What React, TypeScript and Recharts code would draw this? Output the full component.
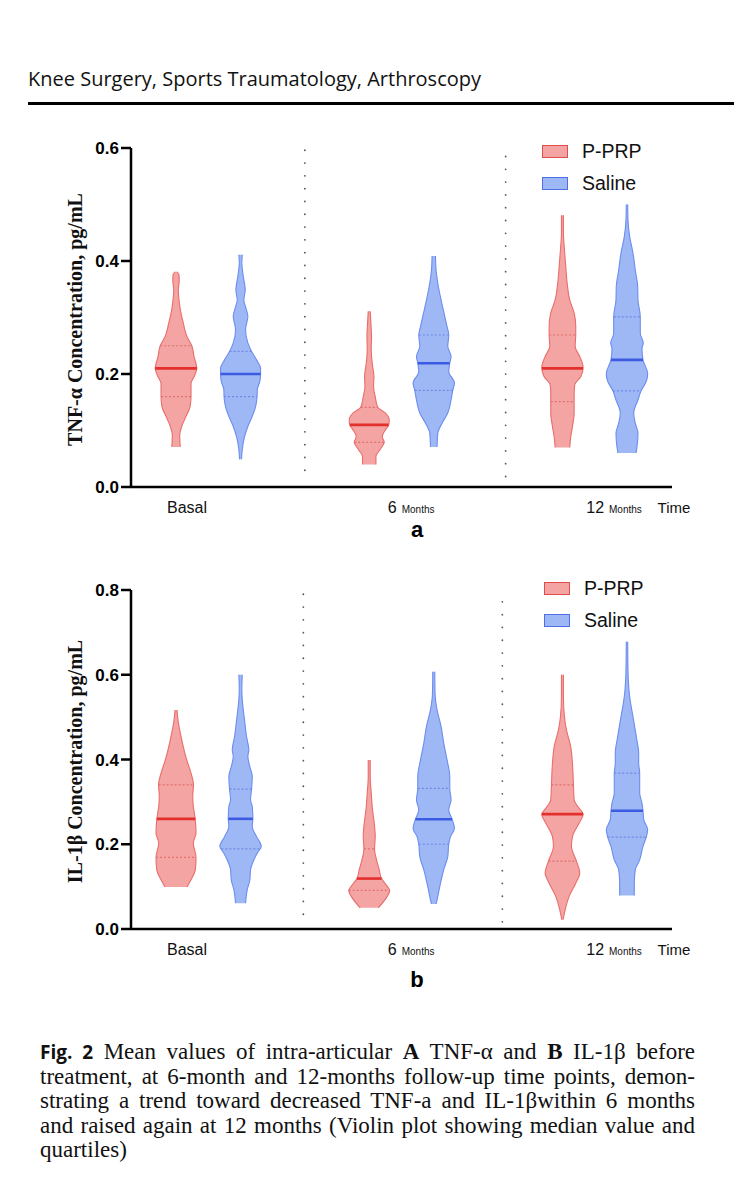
import React from "react";
import { ComposedChart, Area, XAxis, YAxis, ReferenceLine, Legend } from "recharts";

// x axis: time points
const timeLabels = ["Basal", "6", "12"];
const timeUnits = ["", "Months", "Months"];
const groupNames = ["P-PRP", "Saline"];

// violin outlines: [concentration, half width at reference scale], bottom to top
// Panel a — TNF-α
const tnfPrpBasal = [[0.071, 4.2], [0.092, 3.7], [0.107, 5.7], [0.125, 10], [0.142, 14], [0.16, 15], [0.183, 15], [0.195, 18], [0.21, 20.8], [0.231, 18], [0.25, 15.8], [0.266, 11], [0.29, 7.3], [0.314, 4.3], [0.331, 3], [0.349, 2.3], [0.365, 3.2], [0.375, 3], [0.381, 1]];
const tnfPrp6 = [[0.04, 6.7], [0.054, 6.7], [0.066, 10.7], [0.079, 15], [0.089, 13], [0.098, 15], [0.111, 19.7], [0.119, 20], [0.131, 16], [0.141, 8.5], [0.16, 6], [0.178, 4.3], [0.195, 4.7], [0.219, 3], [0.243, 2], [0.266, 2.3], [0.29, 1.7], [0.311, 1]];
const tnfPrp12 = [[0.07, 7.3], [0.089, 8.3], [0.107, 10], [0.131, 11.7], [0.151, 11.7], [0.166, 11.7], [0.181, 12.3], [0.195, 18.3], [0.211, 20.7], [0.219, 20], [0.231, 17.3], [0.249, 12.7], [0.269, 13.3], [0.284, 13.3], [0.308, 11.7], [0.331, 7.3], [0.361, 4.7], [0.39, 3.3], [0.42, 2], [0.449, 1], [0.481, 1]];
const tnfSalBasal = [[0.049, 1], [0.066, 1.7], [0.089, 4], [0.107, 7.3], [0.125, 11.7], [0.142, 15], [0.16, 16.5], [0.172, 16.7], [0.187, 19.3], [0.2, 20], [0.21, 20], [0.225, 16], [0.24, 11], [0.255, 7.3], [0.278, 5], [0.302, 7.3], [0.317, 5.3], [0.331, 3.3], [0.349, 4.7], [0.373, 2.7], [0.396, 1.3], [0.411, 1.7]];
const tnfSal6 = [[0.071, 3.3], [0.095, 4], [0.113, 8.3], [0.131, 14], [0.154, 17.3], [0.171, 19], [0.184, 20.7], [0.204, 15], [0.219, 16], [0.231, 17.3], [0.249, 14], [0.269, 15], [0.284, 13.3], [0.302, 11], [0.331, 7.3], [0.361, 4], [0.384, 2.3], [0.409, 1.7]];
const tnfSal12 = [[0.06, 9], [0.071, 10], [0.095, 11], [0.113, 8.3], [0.131, 6.7], [0.154, 11], [0.17, 14], [0.187, 19.3], [0.201, 20.7], [0.225, 16], [0.245, 15], [0.255, 16.3], [0.272, 13.3], [0.301, 13.3], [0.331, 11], [0.355, 10.7], [0.384, 8.3], [0.414, 6], [0.443, 2.7], [0.473, 1], [0.5, 0.7]];

const tnfPrpMedian = [0.21, 0.11, 0.21];
const tnfPrpQ1 = [0.16, 0.079, 0.151];
const tnfPrpQ3 = [0.25, 0.141, 0.269];
const tnfSalMedian = [0.2, 0.219, 0.225];
const tnfSalQ1 = [0.16, 0.171, 0.17];
const tnfSalQ3 = [0.24, 0.269, 0.301];
const tnfTicks = [0, 0.2, 0.4, 0.6];

// Panel b — IL-1β
const il1PrpBasal = [[0.099, 11], [0.116, 15], [0.14, 19.3], [0.169, 20], [0.203, 17.3], [0.226, 20], [0.26, 19.2], [0.289, 17.3], [0.313, 16.7], [0.34, 17.5], [0.368, 15], [0.399, 10.7], [0.43, 7.3], [0.462, 4.3], [0.493, 2], [0.517, 1]];
const il1Prp6 = [[0.05, 9], [0.077, 18], [0.091, 20.5], [0.1, 18.3], [0.119, 12.3], [0.14, 10], [0.163, 7.3], [0.189, 5.3], [0.218, 6], [0.25, 5], [0.281, 3.3], [0.321, 2], [0.36, 1], [0.399, 1]];
const il1Prp12 = [[0.022, 0.7], [0.045, 2.7], [0.077, 6.7], [0.108, 13.3], [0.132, 17.3], [0.16, 14], [0.195, 9], [0.218, 10], [0.25, 16.7], [0.271, 20.7], [0.285, 16.7], [0.305, 11.7], [0.34, 11], [0.391, 10], [0.43, 8.3], [0.47, 4], [0.501, 2], [0.548, 1], [0.6, 1]];
const il1SalBasal = [[0.061, 5], [0.093, 6.7], [0.116, 9.3], [0.14, 10], [0.163, 13.3], [0.18, 17], [0.195, 20.7], [0.218, 16], [0.242, 11.7], [0.26, 12.3], [0.289, 11.7], [0.305, 10], [0.33, 11], [0.36, 11.7], [0.383, 9.3], [0.407, 7.3], [0.423, 8.3], [0.454, 6], [0.493, 4], [0.533, 2], [0.564, 1.3], [0.6, 1.7]];
const il1Sal6 = [[0.059, 2.3], [0.069, 3.3], [0.1, 6], [0.14, 10], [0.171, 14], [0.2, 15], [0.218, 16.7], [0.238, 20.7], [0.259, 18.3], [0.281, 15], [0.305, 17.3], [0.332, 16], [0.36, 16], [0.399, 13.3], [0.438, 10], [0.478, 7.3], [0.517, 3.3], [0.556, 1.3], [0.607, 1]];
const il1Sal12 = [[0.079, 7.3], [0.108, 7.3], [0.14, 8.3], [0.163, 12.7], [0.195, 16], [0.217, 19.3], [0.234, 20.7], [0.258, 16.7], [0.279, 16], [0.297, 15], [0.321, 12.7], [0.368, 12.7], [0.391, 11.7], [0.415, 11.7], [0.454, 9.3], [0.501, 6], [0.548, 2.7], [0.611, 1], [0.678, 0.7]];

const il1PrpMedian = [0.26, 0.119, 0.271];
const il1PrpQ1 = [0.169, 0.091, 0.16];
const il1PrpQ3 = [0.34, 0.189, 0.34];
const il1SalMedian = [0.26, 0.259, 0.279];
const il1SalQ1 = [0.189, 0.2, 0.217];
const il1SalQ3 = [0.33, 0.332, 0.368];
const il1Ticks = [0, 0.2, 0.4, 0.6, 0.8];

const SANS = '"Liberation Sans", Arial, sans-serif';
const SERIF = '"Liberation Serif", "Times New Roman", serif';

const PX_PER_UNIT = 193.2;
const GROUP_OFFSET = 0.167;
const groupCenters = [0, 1, 2];
const tickPositions = [-0.11, 1.05, 2.1];

const red = { fill: "#F3A4A3", stroke: "#E86E6C", median: "#E3302D", quart: "#E0716F", box: "#E04E4C" };
const blue = { fill: "#9EB8F5", stroke: "#6D8DEE", median: "#3C5AE2", quart: "#6E88E5", box: "#4F6FE6" };

function halfWidthAt(profile: number[][], v: number) {
  for (let i = 0; i < profile.length - 1; i++) {
    const [v0, w0] = profile[i];
    const [v1, w1] = profile[i + 1];
    if (v >= v0 && v <= v1) return w0 + ((v - v0) / (v1 - v0)) * (w1 - w0);
  }
  return 0;
}

function TimeTick(props: any) {
  const { x, y, index } = props;
  return (
    <text x={x} y={y + 26} textAnchor="middle" fontFamily={SANS} fill="#111">
      <tspan fontSize={16}>{timeLabels[index]}</tspan>
      {timeUnits[index] ? <tspan fontSize={10} dx={5}>{timeUnits[index]}</tspan> : null}
    </text>
  );
}

function TimeLabel(props: any) {
  const { x, y, width } = props.viewBox;
  return (
    <text x={x + width + 2} y={y + 26} textAnchor="middle" fontFamily={SANS} fontSize={15} fill="#111">
      Time
    </text>
  );
}

function AxisTitle(props: any) {
  const { x, y, height } = props.viewBox;
  const cx = x + 4;
  const cy = y + height / 2 + 2;
  return (
    <text x={cx} y={cy} transform={`rotate(-90, ${cx}, ${cy})`} textAnchor="middle" dominantBaseline="central"
      fontFamily={SERIF} fontWeight={700} fontSize={20} fill="#111">
      {props.text}
    </text>
  );
}

function LegendBox() {
  return (
    <div style={{ fontFamily: SANS }}>
      {groupNames.map((name, i) => {
        const col = i === 0 ? red : blue;
        return (
          <div key={name} style={{ display: "flex", alignItems: "center", height: 32 }}>
            <span style={{ width: 26, height: 13, background: col.fill, border: `1.5px solid ${col.box}`, boxSizing: "border-box" }} />
            <span style={{ marginLeft: 14, fontSize: 19.5, color: "#111" }}>{name}</span>
          </div>
        );
      })}
    </div>
  );
}

type PanelCfg = {
  title: string;
  domain: number[];
  ticks: number[];
  prp: number[][][];
  sal: number[][][];
  prpMedian: number[]; prpQ1: number[]; prpQ3: number[];
  salMedian: number[]; salQ1: number[]; salQ3: number[];
  separators: number[][];
  legendTop: number;
  legendLeft: number;
};

function Panel({ cfg }: { cfg: PanelCfg }) {
  const violins: any[] = [];
  groupCenters.forEach((c, i) => {
    violins.push({ key: `prp${i}`, pos: c - GROUP_OFFSET, profile: cfg.prp[i], median: cfg.prpMedian[i], q1: cfg.prpQ1[i], q3: cfg.prpQ3[i], col: red });
    violins.push({ key: `sal${i}`, pos: c + GROUP_OFFSET, profile: cfg.sal[i], median: cfg.salMedian[i], q1: cfg.salQ1[i], q3: cfg.salQ3[i], col: blue });
  });

  const seg = (vi: any, v: number) => {
    const hw = halfWidthAt(vi.profile, v) / PX_PER_UNIT;
    return [{ x: vi.pos - hw, y: v }, { x: vi.pos + hw, y: v }];
  };

  return (
    <ComposedChart layout="vertical" width={734} height={440} margin={{ top: 48, right: 62, bottom: 13, left: 71 }}>
      <XAxis type="number" domain={[-0.4, 2.4]} allowDataOverflow ticks={tickPositions} interval={0}
        tick={<TimeTick />} tickLine={false} tickSize={0} tickMargin={0} height={40}
        axisLine={{ stroke: "#000", strokeWidth: 2.5 }} label={<TimeLabel />} />
      <YAxis type="number" dataKey="v" reversed domain={cfg.domain} allowDataOverflow ticks={cfg.ticks} interval={0} width={60}
        tickFormatter={(t: number) => t.toFixed(1)} tickSize={10}
        tick={{ fill: "#000", fontSize: 17, fontWeight: 700, fontFamily: SANS }}
        tickLine={{ stroke: "#000", strokeWidth: 2.5 }} axisLine={{ stroke: "#000", strokeWidth: 2.5 }}
        label={<AxisTitle text={cfg.title} />} />
      <Legend layout="vertical" align="center" verticalAlign="middle"
        wrapperStyle={{ top: cfg.legendTop, left: cfg.legendLeft, width: 140 }} content={() => <LegendBox />} />
      {cfg.separators.map(([x, lo, hi], i) => (
        <ReferenceLine key={`sep${i}`} segment={[{ x, y: hi }, { x, y: lo }]} stroke="#555" strokeWidth={1.8}
          strokeDasharray="0 12.8" strokeLinecap="round" />
      ))}
      {violins.map((vi) => (
        <Area key={vi.key} type="monotone" isAnimationActive={false}
          data={vi.profile.map(([v, hw]: number[]) => ({ v, lo: vi.pos - hw / PX_PER_UNIT, hi: vi.pos + hw / PX_PER_UNIT }))}
          dataKey={(d: any) => [d.lo, d.hi]} fill={vi.col.fill} fillOpacity={1} stroke={vi.col.stroke} strokeWidth={1.1}
          dot={false} activeDot={false} />
      ))}
      {violins.map((vi) => (
        <ReferenceLine key={`q1${vi.key}`} segment={seg(vi, vi.q1)} stroke={vi.col.quart} strokeWidth={1.2} strokeDasharray="2 2" />
      ))}
      {violins.map((vi) => (
        <ReferenceLine key={`q3${vi.key}`} segment={seg(vi, vi.q3)} stroke={vi.col.quart} strokeWidth={1.2} strokeDasharray="2 2" />
      ))}
      {violins.map((vi) => (
        <ReferenceLine key={`md${vi.key}`} segment={seg(vi, vi.median)} stroke={vi.col.median} strokeWidth={2.6} />
      ))}
    </ComposedChart>
  );
}

const panelA: PanelCfg = {
  title: "TNF-α Concentration, pg/mL",
  domain: [0, 0.6],
  ticks: tnfTicks,
  prp: [tnfPrpBasal, tnfPrp6, tnfPrp12],
  sal: [tnfSalBasal, tnfSal6, tnfSal12],
  prpMedian: tnfPrpMedian, prpQ1: tnfPrpQ1, prpQ3: tnfPrpQ3,
  salMedian: tnfSalMedian, salQ1: tnfSalQ1, salQ3: tnfSalQ3,
  separators: [[0.5, 0.02, 0.596], [1.539, 0.01, 0.585]],
  legendTop: 35,
  legendLeft: 542,
};

const panelB: PanelCfg = {
  title: "IL-1β Concentration, pg/mL",
  domain: [0, 0.8],
  ticks: il1Ticks,
  prp: [il1PrpBasal, il1Prp6, il1Prp12],
  sal: [il1SalBasal, il1Sal6, il1Sal12],
  prpMedian: il1PrpMedian, prpQ1: il1PrpQ1, prpQ3: il1PrpQ3,
  salMedian: il1SalMedian, salQ1: il1SalQ1, salQ3: il1SalQ3,
  separators: [[0.492, 0.03, 0.79], [1.522, 0.012, 0.772]],
  legendTop: 30,
  legendLeft: 544,
};

const lineStyle: React.CSSProperties = { textAlign: "justify", textAlignLast: "justify", whiteSpace: "nowrap", height: 24.5 };

export default function App() {
  return (
    <div style={{ position: "absolute", left: 0, top: 0, width: 734, height: 1200, background: "#fff", overflow: "hidden" }}>
      <div style={{ position: "absolute", left: 28, top: 66, fontFamily: '"Open Sans", sans-serif', fontSize: 20, lineHeight: "26px", color: "#111" }}>
        Knee Surgery, Sports Traumatology, Arthroscopy
      </div>
      <div style={{ position: "absolute", left: 28, top: 102, width: 706, height: 3, background: "#000" }} />

      <div style={{ position: "absolute", left: 0, top: 100 }}>
        <Panel cfg={panelA} />
      </div>
      <div style={{ position: "absolute", left: 405, top: 516, width: 24, textAlign: "center", fontFamily: SANS, fontWeight: 700, fontSize: 22, lineHeight: "28px" }}>a</div>

      <div style={{ position: "absolute", left: 0, top: 542 }}>
        <Panel cfg={panelB} />
      </div>
      <div style={{ position: "absolute", left: 405, top: 966, width: 24, textAlign: "center", fontFamily: SANS, fontWeight: 700, fontSize: 22, lineHeight: "28px" }}>b</div>

      <div style={{ position: "absolute", left: 40, top: 1040, width: 655, fontFamily: SERIF, fontSize: 23, lineHeight: "24.5px", color: "#111" }}>
        <div style={lineStyle}>
          <b style={{ fontFamily: '"Open Sans", sans-serif', fontSize: 19 }}>Fig. 2</b>{"  "}Mean values of intra-articular <b>A</b> TNF-α and <b>B</b> IL-1β before
        </div>
        <div style={lineStyle}>treatment, at 6-month and 12-months follow-up time points, demon-</div>
        <div style={lineStyle}>strating a trend toward decreased TNF-a and IL-1βwithin 6 months</div>
        <div style={lineStyle}>and raised again at 12 months (Violin plot showing median value and</div>
        <div style={{ height: 24.5 }}>quartiles)</div>
      </div>
    </div>
  );
}
